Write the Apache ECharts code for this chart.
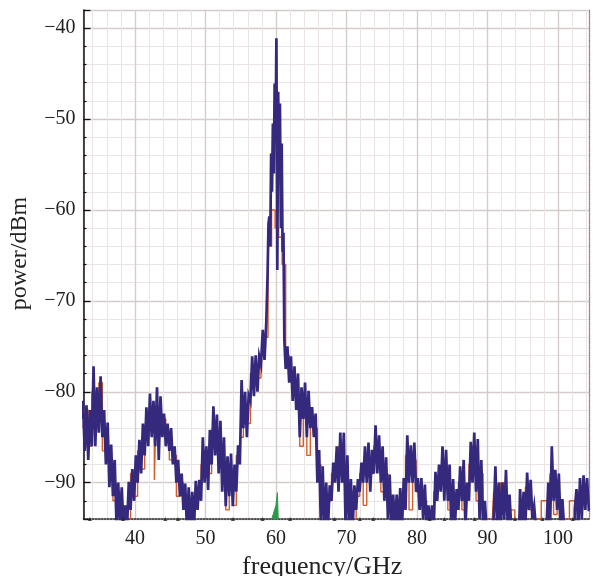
<!DOCTYPE html>
<html>
<head>
<meta charset="utf-8">
<script src="https://cdn.jsdelivr.net/npm/echarts@6/dist/echarts.min.js"></script>
<style>
  html, body { margin: 0; padding: 0; background: #fff; }
  #chart { width: 596px; height: 576px; }
</style>
</head>
<body>
<div id="chart"></div>
<script>
// Spectrum sweeps: [frequency GHz, power dBm]
const blueTrace = [
  [32.5,-83],[32.75,-81],[33.0,-86.5],[33.25,-81.5],[33.5,-87.5],[33.75,-82],
  [34.0,-86],[34.25,-77.2],[34.5,-86],[34.75,-79.5],[35.0,-84.5],[35.25,-78.3],[35.5,-85],[35.75,-82],
  [36.0,-88],[36.25,-83.4],[36.5,-90.5],[36.75,-85.8],[37.0,-91.5],[37.25,-87.5],[37.5,-94.5],[37.75,-90],
  [38.0,-95],[38.25,-90.5],[38.5,-95],[38.75,-92.5],[39.0,-95],[39.25,-89.9],[39.5,-93],[39.75,-88.5],
  [40.0,-92],[40.25,-87],[40.5,-90],[40.75,-85.3],[41.0,-89],[41.25,-83.5],[41.5,-87],[41.75,-81.7],
  [42.0,-86],[42.25,-80.2],[42.5,-85],[42.75,-81],[43.0,-86],[43.25,-79.5],[43.5,-87.5],[43.75,-80.5],
  [44.0,-85],[44.25,-82.4],[44.5,-86],[44.75,-83.5],[45.0,-86.5],[45.25,-84],[45.5,-88],[45.75,-86],
  [46.0,-90],[46.25,-87.5],[46.5,-91.5],[46.75,-89],[47.0,-93],[47.25,-90.1],[47.5,-95],[47.75,-90.5],
  [48.0,-95],[48.25,-91],[48.5,-95],[48.75,-89.8],[49.0,-93],[49.25,-89.7],[49.5,-92],[49.75,-85],
  [50.0,-90],[50.25,-86],[50.5,-90.8],[50.75,-84.2],[51.0,-88],[51.25,-81.6],[51.5,-87],[51.75,-82.5],
  [52.0,-89],[52.25,-83.2],[52.5,-91],[52.75,-85],[53.0,-92.6],[53.25,-87.1],[53.5,-91.5],[53.75,-86.8],
  [54.0,-92.6],[54.25,-88],[54.5,-91],[54.75,-85.9],[55.0,-88],[55.25,-78.7],[55.5,-84],[55.75,-80],
  [56.0,-85],[56.25,-80.4],[56.5,-81],[56.75,-76.1],[57.0,-80.5],[57.25,-76],[57.5,-80],[57.75,-76.1],
  [58.0,-77],[58.25,-73.2],[58.5,-76.5],[58.75,-72.4],
  [58.875,-67],[59.0,-61.5],[59.125,-60.7],[59.25,-64],[59.375,-53.8],[59.5,-58],[59.625,-50.5],[59.75,-56],
  [59.875,-46.1],[60.0,-52],[60.125,-41.1],[60.25,-66.6],[60.375,-47],[60.5,-55],[60.625,-48.3],[60.75,-62],
  [60.875,-52.7],[61.0,-64.6],[61.125,-62.5],
  [61.25,-74.3],[61.5,-77.5],[61.75,-75],
  [62.0,-79],[62.25,-76.1],[62.5,-81],[62.75,-77.2],[63.0,-82],[63.25,-78],[63.5,-85],[63.75,-79.5],
  [64.0,-83],[64.25,-79],[64.5,-85],[64.75,-79.9],[65.0,-84],[65.25,-81.7],[65.5,-85],[65.75,-82.4],
  [66.0,-90],[66.25,-86.4],[66.5,-95],[66.75,-88.2],[67.0,-95],[67.25,-90],[67.5,-95],[67.75,-90.3],
  [68.0,-92],[68.25,-87.8],[68.5,-90],[68.75,-86],[69.0,-91],[69.25,-84.5],[69.5,-90],[69.75,-84.5],
  [70.0,-95],[70.25,-87],[70.5,-95],[70.75,-89.6],[71.0,-95],[71.25,-90.3],[71.5,-93],[71.75,-89.6],
  [72.0,-91],[72.25,-87.8],[72.5,-90],[72.75,-86],[73.0,-90],[73.25,-85.6],[73.5,-91],[73.75,-86.4],
  [74.0,-89],[74.25,-83.7],[74.5,-89],[74.75,-84.8],[75.0,-90],[75.25,-86],[75.5,-92],[75.75,-87.2],
  [76.0,-94],[76.25,-89.1],[76.5,-95],[76.75,-91.3],[77.0,-95],[77.25,-91.3],[77.5,-95],[77.75,-90.6],
  [78.0,-95],[78.25,-89.5],[78.5,-93],[78.75,-84.8],[79.0,-90],[79.25,-85.9],[79.5,-90],[79.75,-85.6],
  [80.0,-91],[80.25,-89.5],[80.5,-93],[80.75,-89.5],[81.0,-94],[81.25,-90.2],[81.5,-95],[81.75,-92.5],
  [82.0,-95],[82.25,-92.5],[82.5,-95],[82.75,-88.8],[83.0,-92],[83.25,-88],[83.5,-91],[83.75,-86],
  [84.0,-92],[84.25,-86.4],[84.5,-92],[84.75,-88],[85.0,-95],[85.25,-89.6],[85.5,-95],[85.75,-90.7],
  [86.0,-93],[86.25,-88.2],[86.5,-92],[86.75,-87.5],[87.0,-95],[87.25,-90],[87.5,-92],[87.75,-85.5],
  [88.0,-90],[88.25,-84.5],[88.5,-91],[88.75,-85.2],[89.0,-94],[89.25,-87.5],[89.5,-95],[89.75,-92],
  [90.0,-95],[90.25,-95],[90.5,-95],[90.75,-95],[91.0,-94],[91.25,-88.2],[91.5,-95],[91.75,-90],
  [92.0,-95],[92.25,-90],[92.5,-94],[92.75,-88.6],[93.0,-95],[93.25,-91.3],[93.5,-95],[93.75,-95],
  [94.0,-95],[94.25,-95],[94.5,-95],[94.75,-90.7],[95.0,-95],[95.25,-91],[95.5,-95],[95.75,-88.9],
  [96.0,-93],[96.25,-89.7],[96.5,-94],[96.75,-92.6],[97.0,-95],[97.25,-95],[97.5,-95],[97.75,-95],
  [98.0,-95],[98.25,-95],[98.5,-95],[98.75,-90],[99.0,-95],[99.25,-86],[99.5,-92],[99.75,-88.6],
  [100.0,-93],[100.25,-89],[100.5,-95],[100.75,-91.8],[101.0,-95],[101.25,-95],[101.5,-95],[101.75,-95],
  [102.0,-95],[102.25,-95],[102.5,-93],[102.75,-90.7],[103.0,-95],[103.25,-89.5],[103.5,-94],[103.75,-89.2],
  [104.0,-93],[104.25,-89.5],[104.5,-93]
];

const orangeTrace = [
  [32.625,-84],[33.125,-82],[33.625,-86],[34.125,-80],[34.625,-83],[35.125,-79],[35.625,-86.5],
  [36.125,-86],[36.625,-88],[37.125,-92],[37.625,-91],[38.125,-95],[38.625,-93],[39.125,-95],[39.625,-89],
  [40.125,-91.5],[40.625,-86.5],[41.125,-88.5],[41.625,-84],[42.125,-83],[42.625,-84.5],[42.875,-89.7],
  [43.125,-82],[43.625,-84],[44.125,-83],[44.625,-85.5],[45.125,-87.5],[45.625,-87],[46.125,-91.5],
  [46.625,-90],[47.125,-92],[47.625,-94],[48.125,-93],[48.625,-92.5],[49.125,-91.5],[49.625,-88],
  [50.125,-86.5],[50.625,-89],[51.125,-86],[51.625,-84.5],[52.125,-86.5],[52.625,-88],[53.125,-93],
  [53.625,-89],[54.125,-92.5],[54.625,-87],[55.125,-85],[55.625,-81.5],[56.125,-83.5],[56.625,-78],
  [57.125,-79],[57.625,-78.5],[58.125,-76],[58.625,-74],[59.125,-64],[59.625,-60],[60.125,-62],
  [60.625,-63],[61.125,-66],[61.625,-76],[62.125,-78.5],[62.625,-80],[63.125,-80.5],[63.625,-86],
  [64.125,-82],[64.625,-87],[65.125,-83],[65.625,-84],[66.125,-88],[66.625,-92],[67.125,-93],
  [67.625,-92],[68.125,-89],[68.625,-88],[69.125,-86],[69.625,-89],[70.125,-92],[70.625,-91],
  [71.125,-94],[71.625,-91.5],[72.125,-89],[72.625,-92.5],[73.125,-88],[73.625,-89],[74.125,-86],
  [74.625,-87.5],[75.125,-91],[75.625,-89],[76.125,-92],[76.625,-93],[77.125,-94],[77.625,-92],
  [78.125,-91],[78.625,-87],[79.125,-93],[79.625,-87.5],[80.125,-91],[80.625,-91.5],[81.125,-92],
  [81.625,-95],[82.125,-94],[82.625,-91],[83.125,-90],[83.625,-89],[84.125,-88.5],[84.625,-93],
  [85.125,-91],[85.625,-92.5],[86.125,-90],[86.625,-93],[87.125,-91],[87.625,-88],[88.125,-86],
  [88.625,-92],[89.125,-89],[89.625,-94],[90.625,-95],[91.125,-91],[91.625,-93],[92.125,-90],
  [92.625,-92],[93.125,-93],[94.625,-95],[95.125,-92],[95.625,-90.5],[96.125,-93],[96.625,-94],
  [98.625,-92],[99.125,-89],[99.625,-93.5],[100.125,-92],[100.625,-94],[102.625,-92],[103.125,-91],
  [103.625,-91],[104.125,-92]
];

const greenTrace = [
  [59.4,-94],[59.6,-93.5],[59.8,-93],[60.0,-92.5],[60.2,-91.1],[60.3,-91.1],[60.32,-94]
];

const floorMarkers = [
  [33.6,-94],[38.3,-94],[44.3,-94],[46.1,-94],[53.9,-94],[58.1,-94],[62.0,-94],[68.3,-94],
  [71.9,-94],[73.8,-94],[81.8,-94],[83.9,-94],[88.2,-94],[93.9,-94],[97.8,-94],[102.1,-94]
];

const xRange = [32.7, 104.4];
const yRange = [-94, -38];

const serif = 'Liberation Serif, Times New Roman, serif';
const majorGrid = { show: true, lineStyle: { color: '#d6cbcb', width: 1.4 } };
const minorGrid = { show: true, lineStyle: { color: '#ebe4e4', width: 1 } };

const chart = echarts.init(document.getElementById('chart'), null, { renderer: 'canvas' });
chart.setOption({
  animation: false,
  backgroundColor: '#ffffff',
  grid: { left: 83.5, right: 7, top: 10, bottom: 57, containLabel: false, outerBoundsMode: 'none' },
  xAxis: {
    type: 'value',
    min: xRange[0], max: xRange[1],
    minInterval: 10, maxInterval: 10,
    name: 'frequency/GHz',
    nameLocation: 'middle',
    nameGap: 33,
    nameTextStyle: { fontFamily: serif, fontSize: 26, color: '#222', padding: [0, 28, 0, 0] },
    axisLine: { show: true, onZero: false, lineStyle: { color: '#222', type: 'dotted', width: 1.5 } },
    axisTick: { show: false },
    axisLabel: {
      showMinLabel: false, showMaxLabel: false,
      fontFamily: serif, fontSize: 20, color: '#222', margin: 10
    },
    splitLine: majorGrid,
    minorTick: { show: false, splitNumber: 5 },
    minorSplitLine: minorGrid
  },
  yAxis: [{
    type: 'value',
    min: yRange[0], max: yRange[1],
    minInterval: 10, maxInterval: 10,
    name: 'power/dBm',
    nameLocation: 'middle',
    nameGap: 52,
    nameRotate: 90,
    nameTextStyle: { fontFamily: serif, fontSize: 24, color: '#222', padding: [0, 0, 0, 22] },
    axisLine: { show: true, lineStyle: { color: '#111', width: 1.5 } },
    axisTick: { show: true, inside: true, length: 7, lineStyle: { color: '#111', width: 1.3 } },
    minorTick: { show: true, splitNumber: 5, length: 3, lineStyle: { color: '#111', width: 1.2 } },
    axisLabel: {
      showMinLabel: false, showMaxLabel: false,
      fontFamily: serif, fontSize: 20, color: '#222', margin: 8,
      formatter: v => String(v).replace('-', '\u2212')
    },
    splitLine: majorGrid,
    minorSplitLine: minorGrid
  }, {
    type: 'value',
    position: 'right',
    min: yRange[0], max: yRange[1],
    axisLine: { show: true, lineStyle: { color: '#8a8a8a', type: 'dotted', width: 1.2 } },
    axisTick: { show: false },
    axisLabel: { show: false },
    splitLine: { show: false }
  }],
  series: [
    {
      type: 'line', data: orangeTrace, step: 'middle', showSymbol: false,
      lineStyle: { color: '#d35e2a', width: 1.4 }, z: 2
    },
    {
      type: 'line', data: blueTrace, step: 'middle', showSymbol: false,
      lineStyle: { color: '#34297d', width: 2.7, join: 'miter' }, z: 3
    },
    {
      type: 'line', data: greenTrace, showSymbol: false,
      lineStyle: { color: '#2a9a4a', width: 1 },
      areaStyle: { color: '#2a9a4a', opacity: 1, origin: 'start' }, z: 4
    },
    {
      type: 'scatter', data: floorMarkers, symbol: 'triangle', symbolSize: 4,
      itemStyle: { color: '#222' }, z: 5
    }
  ]
});
</script>
</body>
</html>
